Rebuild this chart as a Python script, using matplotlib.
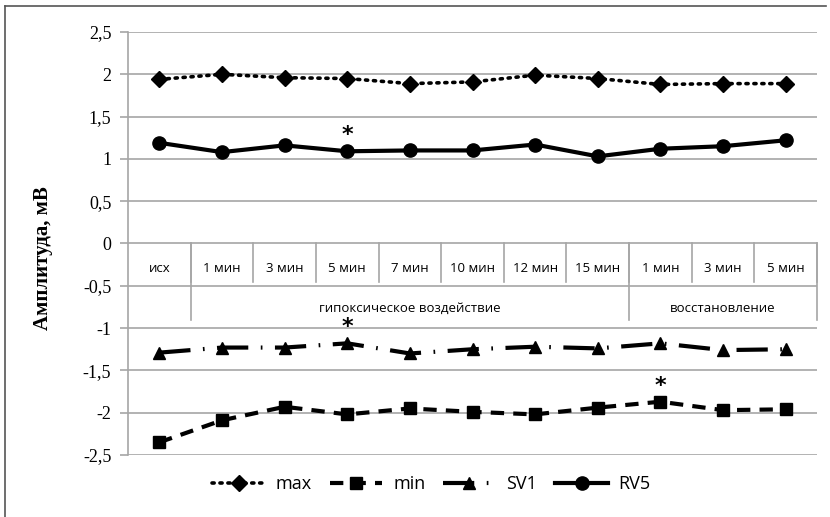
"""
Amplitude of ECG waves across hypoxic exposure and recovery.
Excel-style line chart with a two-level category table on the zero line.
"""
import matplotlib
matplotlib.use("Agg")
import matplotlib.pyplot as plt
from matplotlib.lines import Line2D
import numpy as np

# --- data -------------------------------------------------------------------
categories = ["исх", "1 мин", "3 мин", "5 мин", "7 мин", "10 мин", "12 мин",
              "15 мин", "1 мин", "3 мин", "5 мин"]
groups = [("", 0, 0), ("гипоксическое воздействие", 1, 7), ("восстановление", 8, 10)]

max_vals = [1.94, 2.00, 1.96, 1.95, 1.89, 1.91, 1.99, 1.95, 1.88, 1.89, 1.89]
min_vals = [-2.35, -2.09, -1.93, -2.02, -1.95, -1.99, -2.02, -1.94, -1.87, -1.97, -1.96]
sv1_vals = [-1.29, -1.23, -1.23, -1.18, -1.30, -1.25, -1.22, -1.24, -1.18, -1.26, -1.25]
rv5_vals = [1.19, 1.08, 1.16, 1.09, 1.10, 1.10, 1.17, 1.03, 1.12, 1.15, 1.22]

# significance marks: (series, category index)
stars = [(rv5_vals, 3), (sv1_vals, 3), (min_vals, 8)]

yticks = np.arange(-2.5, 2.51, 0.5)

# --- figure -----------------------------------------------------------------
fig = plt.figure(figsize=(8.3, 5.17), dpi=100)
ax = fig.add_axes([128 / 830, 1 - 455 / 517, (817 - 128) / 830, (455 - 32) / 517])

x = np.arange(len(categories))
black = "#000000"
grid_c = "#a6a6a6"

for y in yticks:
    ax.axhline(y, color=grid_c, lw=1.2, zorder=0)

ax.plot(x, max_vals, color=black, lw=2.6, ls=(0, (0.6, 1.6)),
        dash_capstyle="round", marker="D", ms=8, label="max", zorder=3)
ax.plot(x, min_vals, color=black, lw=3, ls=(0, (3.2, 2.2)),
        marker="s", ms=8.5, label="min", zorder=3)
ax.plot(x, sv1_vals, color=black, lw=3, ls=(0, (7.5, 3, 0.4, 3)),
        marker="^", ms=8.5, label="SV1", zorder=3)
ax.plot(x, rv5_vals, color=black, lw=3, marker="o", ms=9.5,
        label="RV5", zorder=3)

for series, i in stars:
    ax.text(i, series[i] + 0.19, "*", ha="center", va="center",
            fontsize=16, fontweight="bold", family="DejaVu Sans", zorder=4)

# --- category table on the zero line ----------------------------------------
row1_bottom, row2_bottom = -0.46, -0.90
for b in np.arange(len(categories)) + 0.5:
    ax.plot([b, b], [0, row1_bottom], color=grid_c, lw=1.2, zorder=1,
            clip_on=False)
for name, start, end in groups:
    ax.plot([end + 0.5, end + 0.5], [0, row2_bottom], color=grid_c, lw=1.2,
            zorder=1, clip_on=False)
    if name:
        ax.text((start + end) / 2, -0.77, name, ha="center", va="center",
                fontsize=9.5, family="Open Sans")
for i, c in enumerate(categories):
    ax.text(i, -0.29, c, ha="center", va="center", fontsize=9.5,
            family="Open Sans")

# --- axes -------------------------------------------------------------------
ax.set_xlim(-0.5, len(categories) - 0.5)
ax.set_ylim(-2.5, 2.5)
ax.set_xticks([])
ax.set_yticks(yticks)
ax.set_yticklabels([f"{v:g}".replace(".", ",") for v in yticks],
                   family="Liberation Serif", fontsize=13)
ax.tick_params(axis="y", length=6, width=1.2, color=grid_c, pad=6)
for s in ["top", "right", "bottom"]:
    ax.spines[s].set_visible(False)
ax.spines["left"].set_color(grid_c)
ax.spines["left"].set_linewidth(1.2)
ax.set_ylabel("Амплитуда, мВ", family="Liberation Serif", fontsize=15,
              fontweight="bold")
ax.yaxis.set_label_coords(-0.109, 0.466)

fig.legend(loc="lower center", bbox_to_anchor=(0.52, 0.015), ncol=4,
           frameon=False, handlelength=2.9, columnspacing=1.0,
           handletextpad=0.6, prop={"family": "Open Sans", "size": 13})

# outer frame (left and top edges visible in the source)
fig.add_artist(Line2D([5 / 830, 5 / 830], [0, 1 - 6 / 517], color="#555555",
                      lw=1.2, transform=fig.transFigure))
fig.add_artist(Line2D([5 / 830, 826 / 830], [1 - 6 / 517, 1 - 6 / 517],
                      color="#555555", lw=1.2, transform=fig.transFigure))

fig.savefig("out.png", dpi=100)
